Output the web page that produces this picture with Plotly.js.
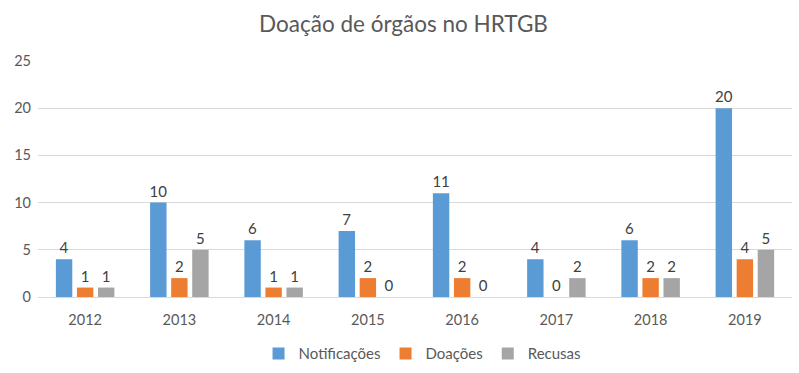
<!DOCTYPE html>
<html>
<head>
<meta charset="utf-8">
<script src="https://cdn.plot.ly/plotly-3.0.1.min.js"></script>
<style>html,body{margin:0;padding:0;background:#fff;}#chart{width:799px;height:373px;}</style>
</head>
<body>
<div id="chart"></div>
<script>
const years = ["2012","2013","2014","2015","2016","2017","2018","2019"];
const notificacoes = [4,10,6,7,11,4,6,20];
const doacoes = [1,2,1,2,2,0,2,4];
const recusas = [1,5,1,0,0,2,2,5];
const yTicks = [0,5,10,15,20,25];

const font = "Lato, 'Open Sans', sans-serif";
function series(name, vals, color){
  return {
    type: "bar", name: name, x: years, y: vals,
    marker: {color: color},
    text: vals.map(String), textposition: "outside", cliponaxis: false, constraintext: "none",
    textfont: {family: font, size: 15, color: "#404040"},
    hoverinfo: "x+y+name"
  };
}
const data = [
  series("Notificações", notificacoes, "#5B9BD5"),
  series("Doações", doacoes, "#ED7D31"),
  series("Recusas", recusas, "#A5A5A5")
];
const layout = {
  width: 799, height: 373,
  margin: {l: 38, r: 7, t: 61, b: 76, autoexpand: false},
  paper_bgcolor: "#fff", plot_bgcolor: "#fff",
  font: {family: font, color: "#595959", size: 13},
  title: {text: "Doação de órgãos no HRTGB", font: {family: font, size: 22.5, color: "#595959"}, x: 0.505, xanchor: "center", y: 0.935, yanchor: "middle"},
  barmode: "group", bargap: 0.33, bargroupgap: 0.22,
  xaxis: {type: "category", automargin: false, showgrid: false, showline: false, ticks: "", tickfont: {size: 14.5, color: "#595959"}, ticklabelstandoff: 12},
  yaxis: {range: [0,25], automargin: false, tickvals: yTicks, showgrid: true, gridcolor: "#D9D9D9", zeroline: true, zerolinecolor: "#D9D9D9", showline: false, ticks: "", tickfont: {size: 14.5, color: "#595959"}, ticklabelstandoff: 6},
  showlegend: true,
  legend: {orientation: "h", x: 0.51, xanchor: "center", y: -0.24, yanchor: "middle", font: {size: 15, color: "#595959"}, itemwidth: 30, traceorder: "normal"}
};
Plotly.newPlot("chart", data, layout, {displayModeBar: false, staticPlot: true});
</script>
</body>
</html>
